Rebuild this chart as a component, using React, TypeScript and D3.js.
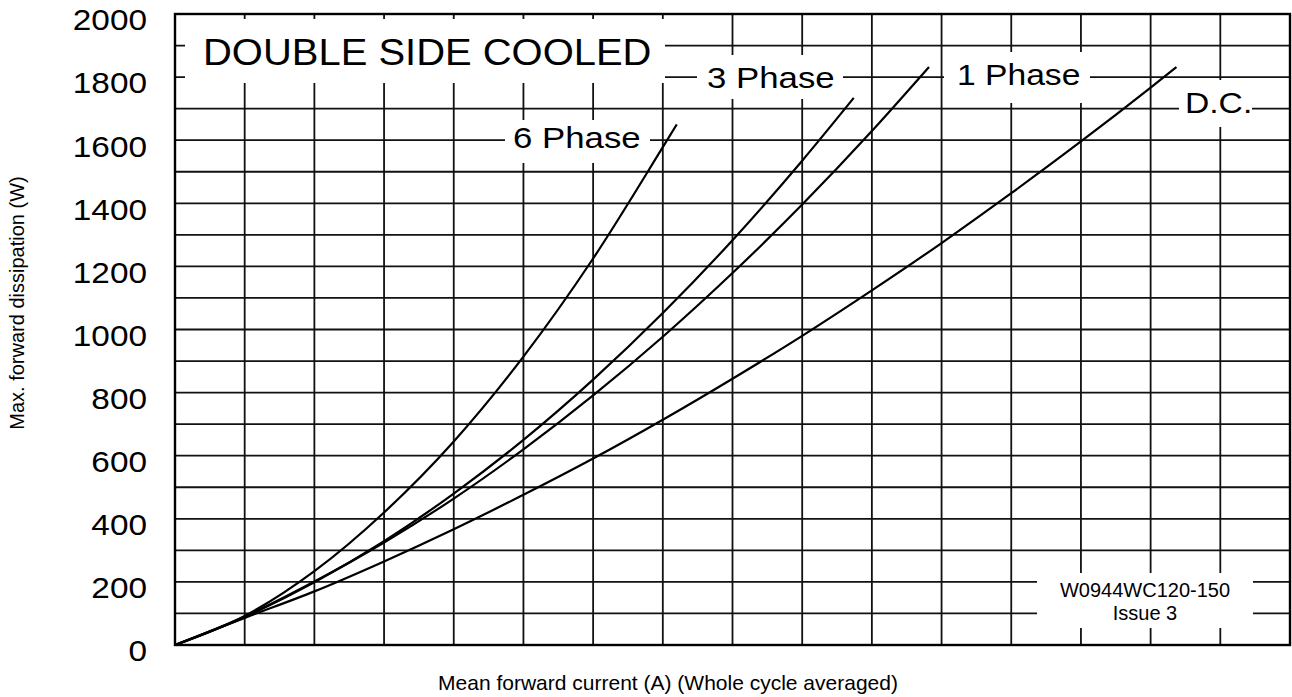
import React, { useEffect, useRef } from "react";
import * as d3 from "d3";

// readings taken off the datasheet curve (current in A, dissipation in W)
const current6 = [0, 100, 200, 300, 400, 500, 600, 700, 720];
const power6 = [0, 92, 234, 420, 645, 914, 1225, 1578, 1650];
const current3 = [0, 100, 200, 300, 400, 500, 600, 700, 800, 900, 974];
const power3 = [0, 89, 199, 329, 480, 650, 841, 1052, 1283, 1535, 1734];
const current1 = [0, 100, 200, 300, 400, 500, 600, 700, 800, 900, 1000, 1082];
const power1 = [0, 90, 201, 325, 464, 620, 791, 977, 1179, 1396, 1629, 1832];
const currentDC = [0, 100, 200, 300, 400, 500, 600, 700, 800, 900, 1000, 1100, 1200, 1300, 1400, 1437];
const powerDC = [0, 86, 170, 265, 367, 476, 591, 714, 844, 980, 1124, 1274, 1432, 1596, 1767, 1832];

const yTickLabels = [0, 200, 400, 600, 800, 1000, 1200, 1400, 1600, 1800, 2000];
const xGridStep = 100;
const yGridStep = 100;

const FONT = "'Liberation Sans', Arial, Helvetica, sans-serif";

export default function App() {
    const ref = useRef<SVGSVGElement>(null);

    useEffect(() => {
        const width = 1292;
        const height = 697;
        const margin = { top: 14, right: 2, bottom: 52, left: 175 };

        const svg = d3.select(ref.current);
        svg.selectAll("*").remove();
        svg.attr("width", width).attr("height", height);

        const xScale = d3.scaleLinear().domain([0, 1600]).range([margin.left, width - margin.right]);
        const yScale = d3.scaleLinear().domain([0, 2000]).range([height - margin.bottom, margin.top]);

        svg.append("rect").attr("width", width).attr("height", height).attr("fill", "#fff");

        // grid
        const grid = svg.append("g").attr("stroke", "#111").attr("stroke-width", 1.8);
        grid.selectAll("line.v").data(d3.range(0, 1601, xGridStep)).enter()
            .append("line")
            .attr("x1", d => xScale(d)).attr("x2", d => xScale(d))
            .attr("y1", yScale(0)).attr("y2", yScale(2000));
        grid.selectAll("line.h").data(d3.range(0, 2001, yGridStep)).enter()
            .append("line")
            .attr("x1", xScale(0)).attr("x2", xScale(1600))
            .attr("y1", d => yScale(d)).attr("y2", d => yScale(d));

        // white patches that the scan puts behind the labels
        const boxes = [
            [185, 19, 665, 83],
            [697, 55, 843, 99],
            [944, 52, 1090, 103],
            [1179, 80, 1252, 127],
            [505, 120, 650, 163],
            [1037, 573, 1253, 628],
        ];
        svg.append("g").selectAll("rect").data(boxes).enter()
            .append("rect")
            .attr("x", d => d[0]).attr("y", d => d[1])
            .attr("width", d => d[2] - d[0]).attr("height", d => d[3] - d[1])
            .attr("fill", "#fff");

        // frame
        svg.append("rect")
            .attr("x", xScale(0)).attr("y", yScale(2000))
            .attr("width", xScale(1600) - xScale(0)).attr("height", yScale(0) - yScale(2000))
            .attr("fill", "none").attr("stroke", "#000").attr("stroke-width", 2.4);

        // curves
        const line = d3.line<[number, number]>()
            .x(d => xScale(d[0]))
            .y(d => yScale(d[1]))
            .curve(d3.curveMonotoneX);
        const series = [
            d3.zip(current6, power6),
            d3.zip(current3, power3),
            d3.zip(current1, power1),
            d3.zip(currentDC, powerDC),
        ];
        svg.append("g").selectAll("path").data(series).enter()
            .append("path")
            .attr("d", d => line(d as [number, number][]))
            .attr("fill", "none")
            .attr("stroke", "#000")
            .attr("stroke-width", 2.2);

        // stretched text, like the scanned lettering
        const label = (txt: string, x: number, y: number, size: number, sx: number, anchor = "start") => {
            svg.append("text")
                .attr("transform", `translate(${x},${y}) scale(${sx},1)`)
                .attr("text-anchor", anchor)
                .style("font-family", FONT)
                .style("font-size", size + "px")
                .attr("fill", "#000")
                .text(txt);
        };

        // y tick labels
        yTickLabels.forEach(v => label(String(v), 147, yScale(v) + 6 + 0.358 * 29, 29, 1.15, "end"));

        label("DOUBLE SIDE COOLED", 203, 65, 37, 1.08);
        label("6 Phase", 513, 138 + 10.4, 29, 1.2);
        label("3 Phase", 707, 78 + 10.4, 29, 1.2);
        label("1 Phase", 957, 75 + 10.4, 29, 1.16);
        label("D.C.", 1185, 103 + 10.4, 29, 1.16);

        svg.append("text")
            .attr("x", 1145).attr("y", 597)
            .attr("text-anchor", "middle")
            .style("font-family", FONT).style("font-size", "20px")
            .text("W0944WC120-150");
        svg.append("text")
            .attr("x", 1145).attr("y", 620)
            .attr("text-anchor", "middle")
            .style("font-family", FONT).style("font-size", "20px")
            .text("Issue 3");

        // axis titles
        svg.append("text")
            .attr("x", 668).attr("y", 690)
            .attr("text-anchor", "middle")
            .style("font-family", FONT).style("font-size", "21px")
            .text("Mean forward current (A) (Whole cycle averaged)");
        svg.append("text")
            .attr("transform", "translate(24,303) rotate(-90)")
            .attr("text-anchor", "middle")
            .style("font-family", FONT).style("font-size", "20px")
            .text("Max. forward dissipation (W)");
    }, []);

    return (
        <svg ref={ref} style={{ position: "fixed", left: 0, top: 0, display: "block" }}></svg>
    );
}
